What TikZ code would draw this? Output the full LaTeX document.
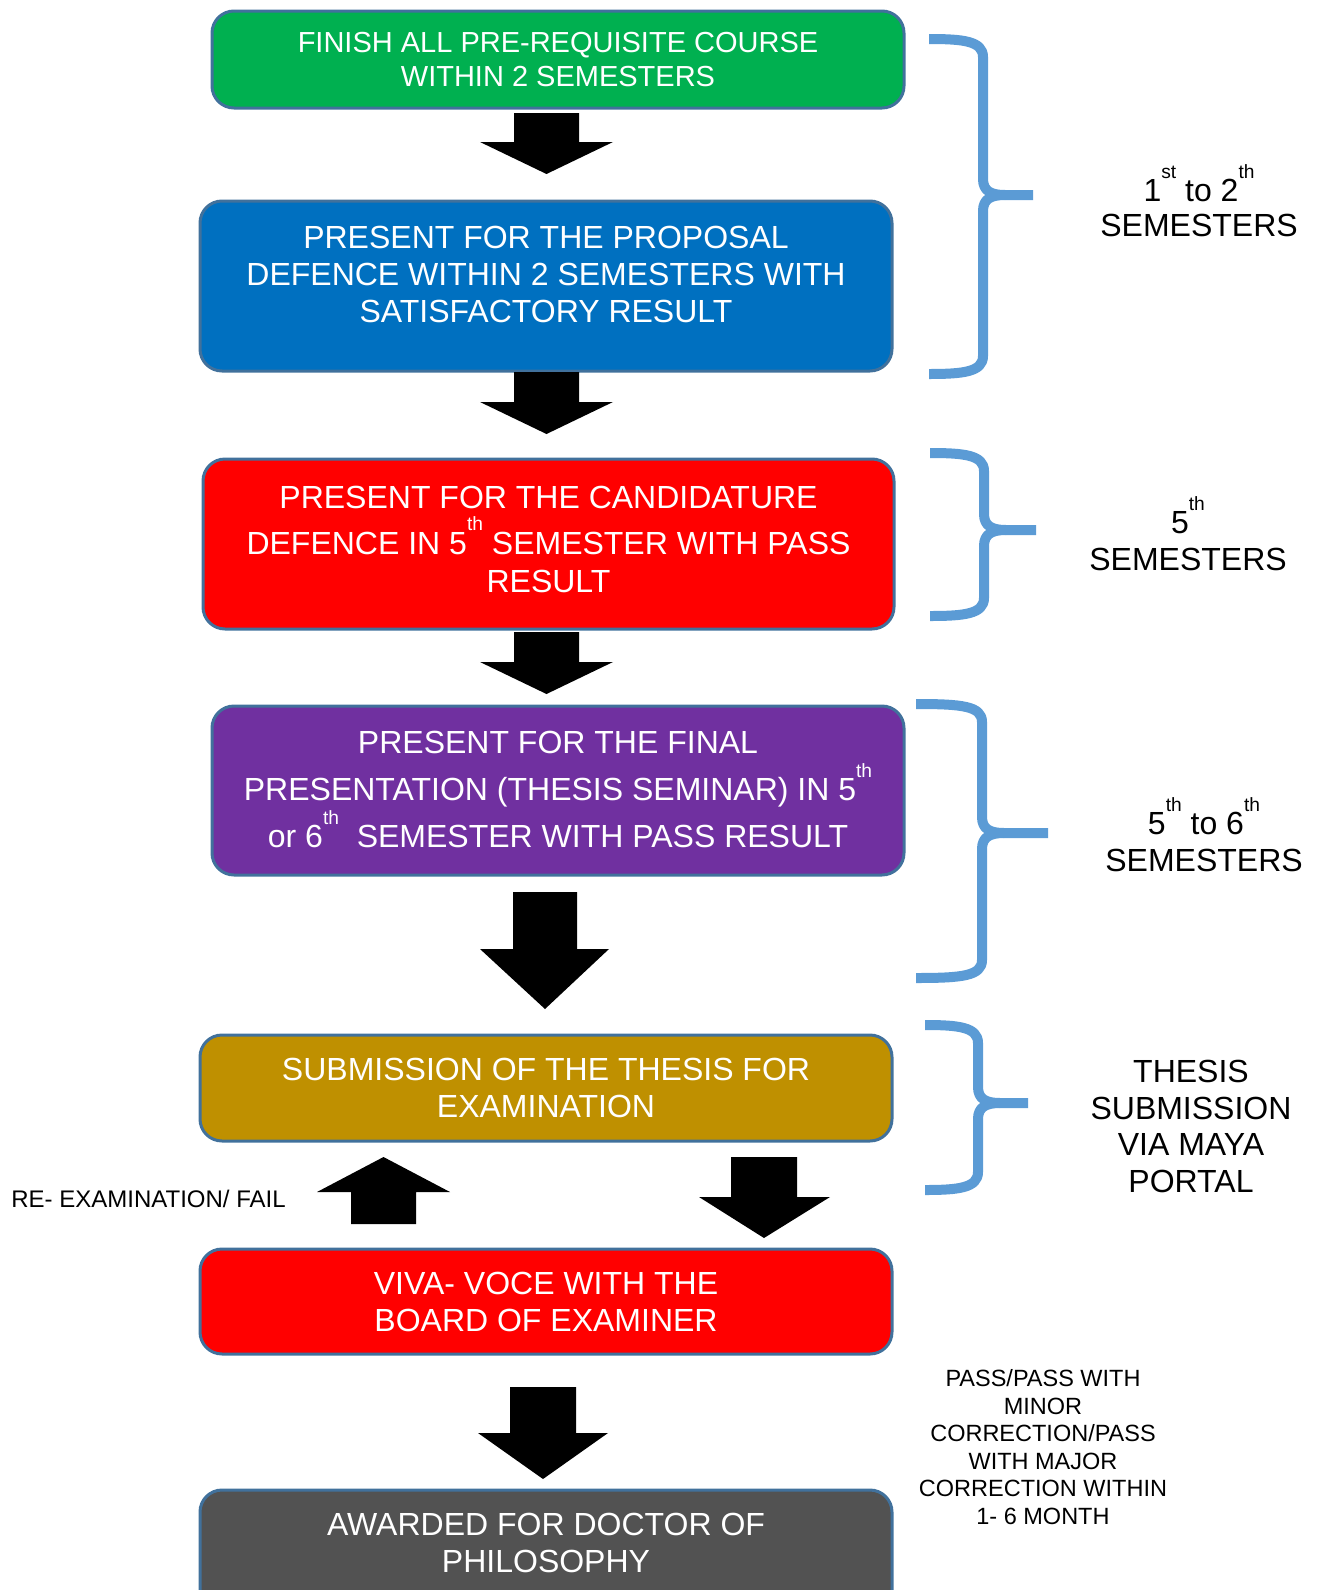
\documentclass[tikz,border=0pt]{standalone}
\usepackage{fontspec}
\usepackage{graphicx}
\setmainfont{Liberation Sans}
\definecolor{cgreen}{HTML}{00B050}
\definecolor{cblue}{HTML}{0070C0}
\definecolor{cred}{HTML}{FF0000}
\definecolor{cpurple}{HTML}{7030A0}
\definecolor{cgold}{HTML}{BF9000}
\definecolor{cgray}{HTML}{525252}
\definecolor{cbrace}{HTML}{5B9BD5}
\definecolor{cborder}{HTML}{41719C}
\newcommand\sx[1]{\raisebox{0.72em}{\scalebox{0.6}{#1}}}
\newcommand\nolsk{\lineskiplimit -100pt\relax}
% a b c d y1 y2 y3 : shaft x a..b, head x c..d, shaft top y1, head base y2, tip y3
\newcommand\blockdown[7]{\fill[blockarrow] (#1,#5) -- (#2,#5) -- (#2,#6) -- (#4,#6) -- ({(#1+#2)/2},#7) -- (#3,#6) -- (#1,#6) -- cycle;}
% L V T top mid bot
\newcommand\mybrace[6]{%
 \draw[bracestyle] (#1,#4) .. controls ({#2-20},#4) and (#2,{#4+2}) .. (#2,{#4+18}) -- (#2,{#5-16}) .. controls (#2,{#5-4}) and ({#2+8},#5) .. ({#2+22},#5) -- (#3,#5);
 \draw[bracestyle] ({#2+22},#5) .. controls ({#2+8},#5) and (#2,{#5+4}) .. (#2,{#5+16}) -- (#2,{#6-18}) .. controls (#2,{#6-2}) and ({#2-20},#6) .. (#1,#6);}
\begin{document}
\begin{tikzpicture}[x=0.5pt,y=-0.5pt,
 stepbox/.style={draw=cborder, line width=1.5pt, rounded corners=11pt, inner sep=0pt},
 boxtext/.style={text=white, align=center, inner sep=0pt, font=\fontsize{16}{18.5}\selectfont\nolsk},
 sidetext/.style={text=black, align=center, inner sep=0pt, font=\fontsize{16}{18.25}\selectfont\nolsk},
 smalltext/.style={text=black, align=center, inner sep=0pt, font=\fontsize{11.75}{13.8}\selectfont},
 blockarrow/.style={fill=black},
 bracestyle/.style={draw=cbrace, line width=5pt, line join=round}]
\useasboundingbox (0,0) rectangle (1319,1590);
\clip (0,0) rectangle (1319,1590);

% boxes
\node[stepbox, fill=cgreen, minimum width=346pt, minimum height=48.5pt] (b1) at (558,59.5) {};
\node[stepbox, fill=cblue, minimum width=346pt, minimum height=85pt] (b2) at (546,286) {};
\node[stepbox, fill=cred, minimum width=345.5pt, minimum height=85pt] (b3) at (548.5,544) {};
\node[stepbox, fill=cpurple, minimum width=346pt, minimum height=84.5pt] (b4) at (558,790.5) {};
\node[stepbox, fill=cgold, minimum width=346pt, minimum height=53pt] (b5) at (546,1088) {};
\node[stepbox, fill=cred, minimum width=346pt, minimum height=52.5pt] (b6) at (546,1301.5) {};
\node[stepbox, fill=cgray, minimum width=346pt, minimum height=65pt] (b7) at (546,1555) {};

% box texts
\node[boxtext, font=\fontsize{14.5}{16.75}\selectfont] (t1) at (558,59.5) {FINISH ALL PRE-REQUISITE COURSE\\WITHIN 2 SEMESTERS};
\node[boxtext] (t2) at (546,274.5) {PRESENT FOR THE PROPOSAL\\DEFENCE WITHIN 2 SEMESTERS WITH\\SATISFACTORY RESULT};
\node[boxtext] (t3) at (548.5,539) {PRESENT FOR THE CANDIDATURE\\[4.5pt]DEFENCE IN 5\sx{th} SEMESTER WITH PASS\\[0.5pt]RESULT};
\node[boxtext] (t4) at (558,789.5) {PRESENT FOR THE FINAL\\[5pt]PRESENTATION (THESIS SEMINAR) IN 5\sx{th}\\[5pt]or 6\sx{th}\ \ SEMESTER WITH PASS RESULT};
\node[boxtext] (t5) at (546,1088) {SUBMISSION OF THE THESIS FOR\\EXAMINATION};
\node[boxtext] (t6) at (546,1301.5) {VIVA- VOCE WITH THE\\BOARD OF EXAMINER};
\node[boxtext] (t7) at (546,1543) {AWARDED FOR DOCTOR OF\\PHILOSOPHY};

% block arrows
\blockdown{514}{579}{480}{613}{113}{142}{174}
\blockdown{514}{579}{480}{613}{372}{402}{434}
\blockdown{514}{579}{480}{613}{632}{662}{694}
\blockdown{513}{577}{480}{609}{892}{949}{1009}
\blockdown{731}{797}{699}{830}{1157}{1197}{1238}
\blockdown{510}{576}{478}{608}{1387}{1433}{1479}
\fill[blockarrow] (351,1224) -- (416,1224) -- (416,1192) -- (450,1192) -- (383.5,1157) -- (317,1192) -- (351,1192) -- cycle;

% braces
\mybrace{929}{983}{1033}{39}{195}{374}
\mybrace{930}{984}{1036}{453}{530}{616}
\mybrace{916}{982}{1048}{704}{833}{978}
\mybrace{925}{978}{1028}{1025}{1103}{1190}

% side texts
\node[sidetext] (s1) at (1199,200.5) {1\sx{st} to 2\sx{th}\\[-0.75pt]SEMESTERS};
\node[sidetext] (s2) at (1188,533.5) {5\sx{th}\\SEMESTERS};
\node[sidetext] (s3) at (1204,834.5) {5\sx{th} to 6\sx{th}\\SEMESTERS};
\node[sidetext] (s4) at (1191,1126.5) {THESIS\\SUBMISSION\\VIA MAYA\\PORTAL};
\node[smalltext, font=\fontsize{12}{14}\selectfont] (s5) at (148.5,1199) {RE- EXAMINATION/ FAIL};
\node[smalltext] (s6) at (1043,1447) {PASS/PASS WITH\\MINOR\\CORRECTION/PASS\\WITH MAJOR\\CORRECTION WITHIN\\1- 6 MONTH};
\end{tikzpicture}
\end{document}
